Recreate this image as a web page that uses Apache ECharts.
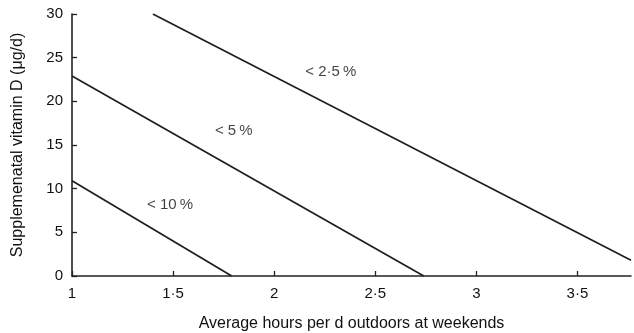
<!DOCTYPE html>
<html><head><meta charset="utf-8">
<script src="https://cdn.jsdelivr.net/npm/echarts@6/dist/echarts.min.js"></script>
<style>html,body{margin:0;padding:0;background:#fff}#c{width:634px;height:333px}</style>
</head><body><div id="c"></div>
<script>
const xTicks = [1, 1.5, 2, 2.5, 3, 3.5];
const xTickLabels = ['1', '1·5', '2', '2·5', '3', '3·5'];
const yTicks = [0, 5, 10, 15, 20, 25, 30];
const line10 = [[1, 10.9], [1.79, 0]];
const line5 = [[1, 22.9], [2.74, 0]];
const line25 = [[1.40, 30], [3.765, 1.8]];
const labelNames = ['< 2·5\u2009%', '< 5\u2009%', '< 10\u2009%'];
const labelPos = [[2.28, 23.4], [1.80, 16.6], [1.485, 8.2]];

const font = 'Liberation Sans, Arial, sans-serif';
const lineStyle = {color: '#1e1e1e', width: 1.7};
const chart = echarts.init(document.getElementById('c'));
chart.setOption({
  animation: false,
  grid: {left: 72, right: 3, top: 14, bottom: 57, containLabel: false, outerBoundsMode: 'none'},
  xAxis: {
    type: 'value', min: 1, max: 3.765, interval: 0.5,
    name: 'Average hours per d outdoors at weekends', nameLocation: 'middle', nameGap: 40,
    nameTextStyle: {fontFamily: font, fontSize: 16, color: '#111'},
    axisLine: {lineStyle: {color: '#222', width: 1.6}},
    axisTick: {inside: true, length: 5, lineStyle: {color: '#222', width: 1.3}, customValues: xTicks},
    axisLabel: {fontFamily: font, fontSize: 15, color: '#111', margin: 10, customValues: xTicks,
      formatter: v => { const i = xTicks.indexOf(v); return i >= 0 ? xTickLabels[i] : ''; }},
    splitLine: {show: false}
  },
  yAxis: {
    type: 'value', min: 0, max: 30, interval: 5,
    name: 'Supplemenatal vitamin D (μg/d)', nameLocation: 'middle', nameGap: 46,
    nameTextStyle: {fontFamily: font, fontSize: 16, color: '#111'},
    axisLine: {show: true, lineStyle: {color: '#222', width: 1.6}},
    axisTick: {show: true, inside: true, length: 5, lineStyle: {color: '#222', width: 1.3}, customValues: yTicks},
    axisLabel: {fontFamily: font, fontSize: 15, color: '#111', margin: 9, customValues: yTicks},
    splitLine: {show: false}
  },
  series: [
    {type: 'line', data: line10, symbol: 'none', lineStyle},
    {type: 'line', data: line5, symbol: 'none', lineStyle},
    {type: 'line', data: line25, symbol: 'none', lineStyle},
    {type: 'scatter', symbolSize: 0, silent: true,
      data: labelPos.map((p, i) => ({value: p, name: labelNames[i]})),
      label: {show: true, position: 'inside', formatter: p => p.name, fontFamily: font, fontSize: 15, color: '#111'}}
  ]
});
</script></body></html>
